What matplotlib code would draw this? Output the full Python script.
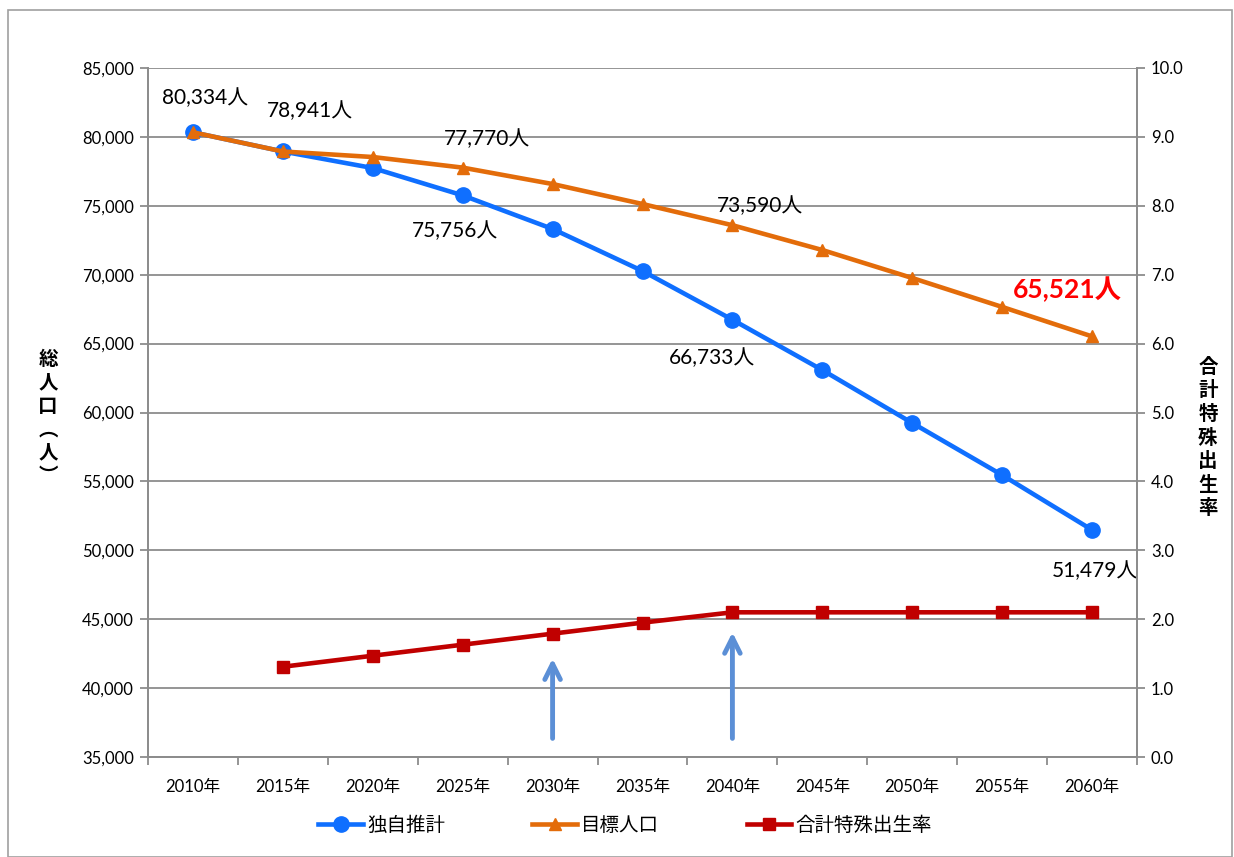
import matplotlib
matplotlib.use('Agg')
import matplotlib.pyplot as plt
from matplotlib.patches import Rectangle

plt.rcParams['font.family'] = ['Lato', 'Noto Sans CJK JP', 'DejaVu Sans']

# Population outlook and fertility rate
years = ['2010年', '2015年', '2020年', '2025年', '2030年', '2035年',
         '2040年', '2045年', '2050年', '2055年', '2060年']
own_estimate = [80334, 78941, 77740, 75756, 73320, 70270, 66733, 63080, 59240, 55460, 51479]
target_pop = [80334, 78941, 78540, 77770, 76580, 75130, 73590, 71790, 69760, 67660, 65521]
fertility = [None, 1.31, 1.47, 1.63, 1.79, 1.95, 2.10, 2.10, 2.10, 2.10, 2.10]

blue = '#0F6FFF'
orange = '#E36C0A'
red = '#C00000'
gray = '#8C8C8C'

fig = plt.figure(figsize=(12.34, 8.57), dpi=100)
fig.patches.append(Rectangle((8 / 1234, 0.0), 1 - 10 / 1234, 1 - 10 / 857,
                             transform=fig.transFigure, fill=False,
                             edgecolor='#A0A0A0', lw=1.2))
ax = fig.add_axes([148 / 1234, 1 - 757 / 857, (1137 - 148) / 1234, (757 - 68) / 857])
ax2 = ax.twinx()

x = list(range(len(years)))

l1, = ax.plot(x, own_estimate, color=blue, lw=3.3, marker='o', ms=11, zorder=3,
              label='独自推計')
l2, = ax.plot(x, target_pop, color=orange, lw=3.3, marker='^', ms=9, zorder=4,
              label='目標人口')
fx = [i for i, v in zip(x, fertility) if v is not None]
fy = [v for v in fertility if v is not None]
l3, = ax2.plot(fx, fy, color=red, lw=3.3, marker='s', ms=8.5, zorder=3,
               label='合計特殊出生率')

ax.set_xlim(-0.5, len(years) - 0.5)
ax.set_ylim(35000, 85000)
ax.set_yticks(range(35000, 85001, 5000))
ax.set_yticklabels([f'{v:,}' for v in range(35000, 85001, 5000)], fontsize=12)
ax.yaxis.grid(True, color=gray, lw=1.3)
ax.set_axisbelow(True)

ax.set_xticks(x)
ax.set_xticklabels(years, fontsize=12)
ax.set_xticks([i + 0.5 for i in range(-1, len(years))], minor=True)
ax.tick_params(axis='x', which='major', length=0, pad=16)
ax.tick_params(axis='x', which='minor', length=6, color=gray, width=1.3)
ax.tick_params(axis='y', length=6, color=gray, width=1.3, pad=4)

ax2.set_ylim(0, 10)
ax2.set_yticks(range(0, 11))
ax2.set_yticklabels([f'{v:.1f}' for v in range(0, 11)], fontsize=12)
ax2.tick_params(axis='y', length=6, color=gray, width=1.3, pad=4)

for a in (ax, ax2):
    a.spines['top'].set_visible(False)
    for s in ('left', 'right', 'bottom'):
        a.spines[s].set_color(gray)
        a.spines[s].set_linewidth(1.3)

# Axis titles written vertically
title_kw = dict(fontsize=14, fontweight='bold', ha='center', va='center',
                linespacing=1.3, family=['Noto Sans CJK JP', 'DejaVu Sans'])
fig.text(48 / 1234, 1 - 418 / 857, '\n'.join('総人口︵人︶'), **title_kw)
fig.text(1208 / 1234, 1 - 438 / 857, '\n'.join('合計特殊出生率'), **title_kw)

# Value labels
lab_kw = dict(fontsize=15, ha='center', va='center', color='black')
ax.text(0.13, 82820, f'{own_estimate[0]:,}人', **lab_kw)
ax.text(1.30, 81880, f'{own_estimate[1]:,}人', **lab_kw)
ax.text(3.27, 79850, f'{target_pop[3]:,}人', **lab_kw)
ax.text(2.91, 73170, f'{own_estimate[3]:,}人', **lab_kw)
ax.text(6.31, 74990, f'{target_pop[6]:,}人', **lab_kw)
ax.text(5.77, 63960, f'{own_estimate[6]:,}人', **lab_kw)
ax.text(10.03, 48500, f'{own_estimate[10]:,}人', **lab_kw)
ax.text(9.73, 68960, f'{target_pop[10]:,}人', fontsize=19, fontweight='bold',
        ha='center', va='center', color='#FF0000')

# Arrows pointing at the fertility milestones
for xi, top in ((4, 1.47), (6, 1.85)):
    ax2.annotate('', xy=(xi, top), xytext=(xi, 0.23),
                 arrowprops=dict(arrowstyle='->', color='#5B8FD6', lw=3.5,
                                 mutation_scale=28, capstyle='round'))

fig.legend(handles=[l1, l2, l3], loc='center',
           bbox_to_anchor=(0.5 + 8 / 1234, 1 - 825 / 857),
           ncol=3, frameon=False, fontsize=14, handlelength=2.3, columnspacing=4.5,
           handletextpad=0.2)

fig.savefig('out.png', dpi=100)
